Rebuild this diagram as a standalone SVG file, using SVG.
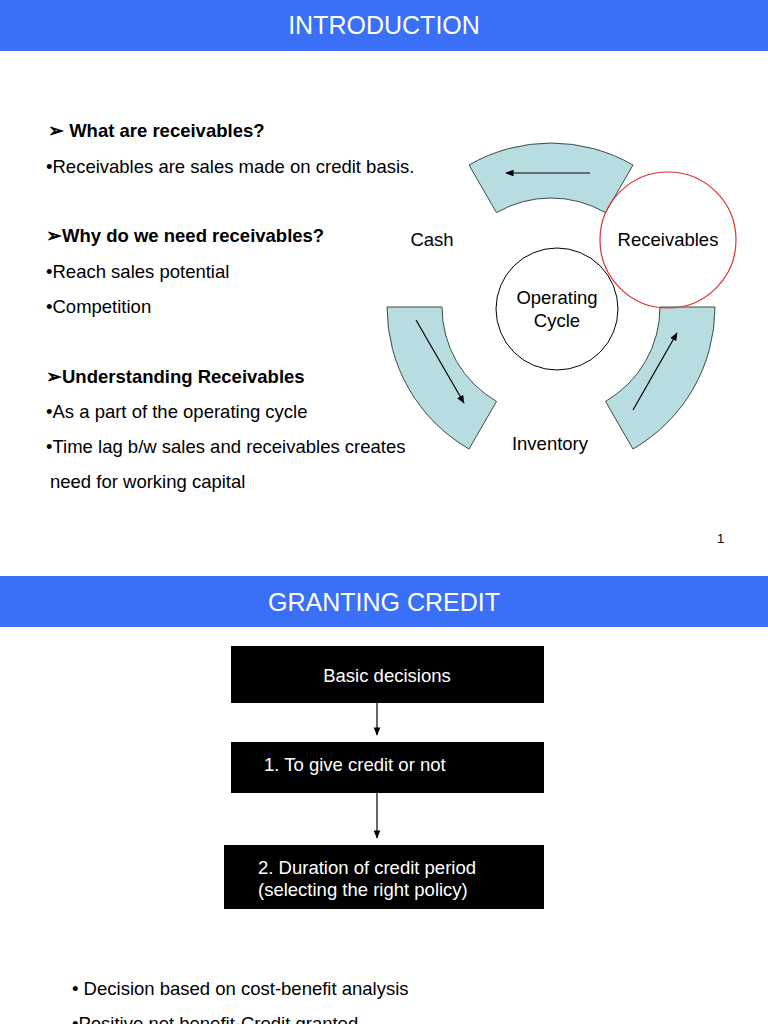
<svg xmlns="http://www.w3.org/2000/svg" width="768" height="1024" viewBox="0 0 768 1024">
<style>
text{font-family:"Liberation Sans",Arial,sans-serif;fill:#000}
.t{font-size:18.5px}
.b{font-weight:bold}
.h{font-size:25px;fill:#fff;text-anchor:middle}
.seg{fill:#b7dde0;stroke:#3c4a4a;stroke-width:1}
.ar{stroke:#000;stroke-width:1.2;fill:none;marker-end:url(#a)}
.box{fill:#000}
.w{fill:#fff;font-size:18.5px}
</style>
<defs><marker id="a" viewBox="0 0 10 10" refX="9" refY="5" markerWidth="7" markerHeight="7" orient="auto"><path d="M0,1L10,5L0,9z" fill="#000"/></marker></defs>
<rect width="768" height="1024" fill="#fff"/>
<rect x="0" y="0" width="768" height="51" fill="#3a6ff7"/>
<text class="h" x="384" y="34">INTRODUCTION</text>
<rect x="0" y="576" width="768" height="51" fill="#3a6ff7"/>
<text class="h" x="384" y="611">GRANTING CREDIT</text>
<g id="text1">
<text class="t b" x="48" y="137">➢ What are receivables?</text>
<text class="t" x="46" y="173">•Receivables are sales made on credit basis.</text>
<text class="t b" x="46" y="242">➢Why do we need receivables?</text>
<text class="t" x="46" y="278">•Reach sales potential</text>
<text class="t" x="46" y="313">•Competition</text>
<text class="t b" x="46" y="383">➢Understanding Receivables</text>
<text class="t" x="46" y="418">•As a part of the operating cycle</text>
<text class="t" x="46" y="453">•Time lag b/w sales and receivables creates</text>
<text class="t" x="50" y="488">need for working capital</text>
<text x="717" y="543" font-size="13">1</text>
</g>
<g id="segments">
<path class="seg" d="M469,165 A164,164 0 0 1 633,165 L605.5,212.6 A109,109 0 0 0 496.5,212.6 Z"/>
<path class="seg" d="M387,307 A164,164 0 0 0 469,449 L496.5,401.4 A109,109 0 0 1 442,307 Z"/>
<path class="seg" d="M715,307 A164,164 0 0 1 633,449 L605.5,401.4 A109,109 0 0 0 660,307 Z"/>
</g>
<g id="connectors">
<line class="ar" x1="590" y1="173" x2="506" y2="173"/>
<line class="ar" x1="416" y1="320" x2="464" y2="403"/>
<line class="ar" x1="633" y1="410" x2="677" y2="333"/>
<line class="ar" x1="377" y1="703" x2="377" y2="735"/>
<line class="ar" x1="377" y1="793" x2="377" y2="838"/>
</g>
<g id="cash"><text class="t" x="432" y="246" text-anchor="middle">Cash</text></g>
<g id="receivables"><circle cx="668" cy="240" r="68" fill="none" stroke="#e03030" stroke-width="1.2"/><text class="t" x="668" y="246" text-anchor="middle">Receivables</text></g>
<g id="operating"><circle cx="557" cy="309" r="61" fill="#fff" stroke="#000"/><text class="t" x="557" y="304" text-anchor="middle">Operating</text><text class="t" x="557" y="327" text-anchor="middle">Cycle</text></g>
<g id="inventory"><text class="t" x="550" y="450" text-anchor="middle">Inventory</text></g>
<g id="basic"><rect class="box" x="231" y="646" width="313" height="57"/><text class="w" x="387" y="682" text-anchor="middle">Basic decisions</text></g>
<g id="give"><rect class="box" x="231" y="742" width="313" height="51"/><text class="w" x="264" y="771">1. To give credit or not</text></g>
<g id="duration"><rect class="box" x="224" y="845" width="320" height="64"/><text class="w" x="258" y="874">2. Duration of credit period</text><text class="w" x="258" y="896">(selecting the right policy)</text></g>
<text class="t" x="72" y="995">• Decision based on cost-benefit analysis</text>
<text class="t" x="72" y="1030">•Positive net benefit-Credit granted</text>
</svg>
